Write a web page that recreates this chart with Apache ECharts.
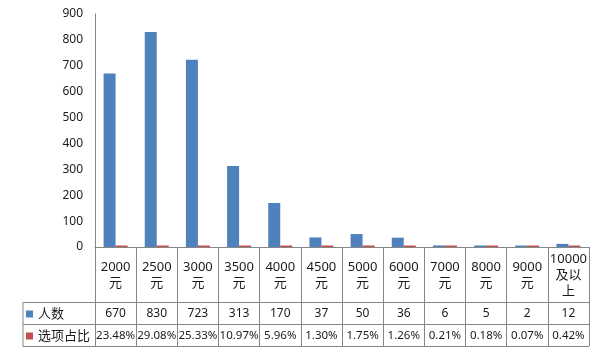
<!DOCTYPE html>
<html>
<head>
<meta charset="utf-8">
<script src="https://cdn.jsdelivr.net/npm/echarts@6/dist/echarts.min.js"></script>
<style>
html,body{margin:0;padding:0;background:#fff;}
#c{width:604px;height:353px;}
</style>
</head>
<body>
<div id="c"></div>
<script>
var categories = ['2000元','2500元','3000元','3500元','4000元','4500元','5000元','6000元','7000元','8000元','9000元','10000及以上'];
var categoryLabels = ['2000\n元','2500\n元','3000\n元','3500\n元','4000\n元','4500\n元','5000\n元','6000\n元','7000\n元','8000\n元','9000\n元','10000\n及以\n上'];
var counts = [670, 830, 723, 313, 170, 37, 50, 36, 6, 5, 2, 12];
var shares = [0.2348, 0.2908, 0.2533, 0.1097, 0.0596, 0.0130, 0.0175, 0.0126, 0.0021, 0.0018, 0.0007, 0.0042];
var seriesNames = ['人数','选项占比'];
var yTicks = {min: 0, max: 900, interval: 100};

var FONT = '"Noto Sans", "Noto Sans CJK SC", sans-serif';
var TXT = '#1a1a1a';
var LINE = '#868686';

var chart = echarts.init(document.getElementById('c'), null, {renderer: 'canvas'});

var gridLeft = 95, gridRight = 15, gridTop = 14, gridBottom = 106;
var tableRight = 604 - gridRight;
var legendLeft = 23;

function hline(y){
  return {type:'line', shape:{x1:legendLeft, y1:y, x2:tableRight, y2:y}, style:{stroke:LINE, lineWidth:1}, silent:true};
}

chart.setOption({
  animation: false,
  textStyle: {fontFamily: FONT},
  grid: {left: gridLeft, right: gridRight, top: gridTop, bottom: gridBottom, containLabel: false},
  legend: {
    data: seriesNames,
    orient: 'vertical',
    left: 26, top: 307,
    padding: 0,
    itemWidth: 7, itemHeight: 7,
    itemGap: 8,
    icon: 'rect',
    textStyle: {fontSize: 13, color: TXT, fontFamily: FONT, lineHeight: 14}
  },
  xAxis: [
    {
      type: 'category',
      data: categories,
      position: 'bottom',
      axisLine: {show: true, lineStyle: {color: LINE, width: 1}},
      axisTick: {show: true, length: 99, interval: 0, lineStyle: {color: LINE, width: 1}},
      axisLabel: {
        interval: 0, margin: 28, verticalAlign: 'middle', lineHeight: 16,
        fontSize: 13, color: TXT, fontFamily: FONT,
        formatter: function(v, i){ return categoryLabels[i]; }
      },
      splitLine: {show: false}
    },
    {
      type: 'category',
      data: counts.map(String),
      position: 'bottom',
      axisLine: {show: false}, axisTick: {show: false},
      axisLabel: {interval: 0, margin: 67, verticalAlign: 'middle', fontSize: 12, color: TXT, fontFamily: FONT}
    },
    {
      type: 'category',
      data: shares.map(function(s){ return (s * 100).toFixed(2) + '%'; }),
      position: 'bottom',
      axisLine: {show: false}, axisTick: {show: false},
      axisLabel: {interval: 0, margin: 89, verticalAlign: 'middle', fontSize: 11.5, color: TXT, fontFamily: FONT}
    }
  ],
  yAxis: {
    type: 'value',
    min: yTicks.min, max: yTicks.max, interval: yTicks.interval,
    axisLine: {show: true, lineStyle: {color: LINE, width: 1}},
    axisTick: {show: false},
    splitLine: {show: false},
    axisLabel: {margin: 12, fontSize: 12, color: TXT, fontFamily: FONT}
  },
  series: [
    {name: seriesNames[0], type: 'bar', data: counts, barWidth: 12, barGap: '0%', barMinHeight: 1.5, itemStyle: {color: '#4F81BD'}},
    {name: seriesNames[1], type: 'bar', data: shares, barWidth: 12, barGap: '0%', barMinHeight: 1.5, itemStyle: {color: '#C0504D'}}
  ],
  graphic: [
    hline(302.5), hline(324.5), hline(346.5),
    {type:'line', shape:{x1:legendLeft, y1:302, x2:legendLeft, y2:347}, style:{stroke:LINE, lineWidth:1}, silent:true}
  ]
});
</script>
</body>
</html>
